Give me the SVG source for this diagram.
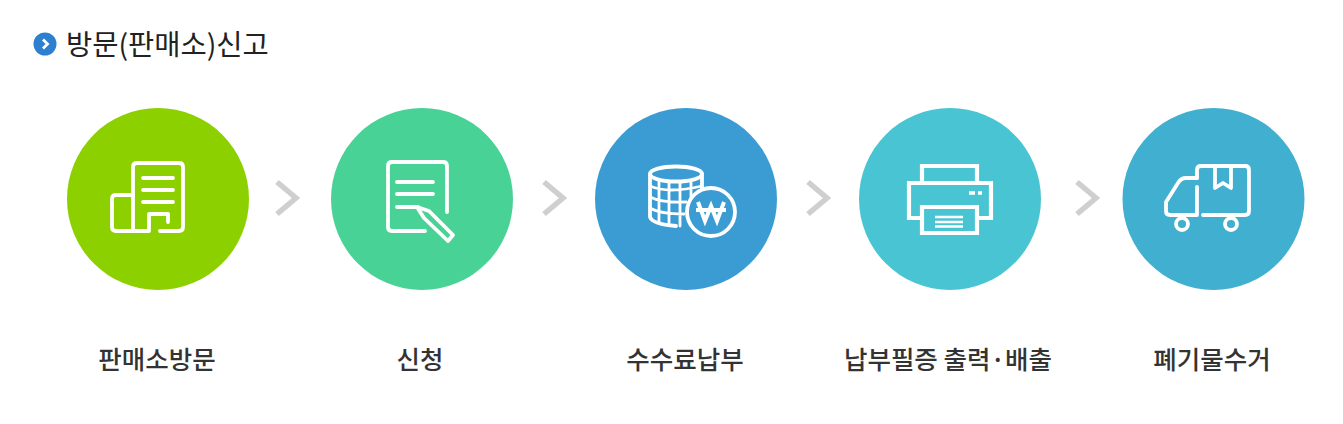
<svg xmlns="http://www.w3.org/2000/svg" width="1343" height="424" viewBox="0 0 1343 424">
<style>
text{font-family:"Noto Sans CJK KR","Noto Sans",sans-serif}
.title{font-size:28.500px;fill:#222;font-weight:400}
.label{font-size:25.500px;fill:#333;font-weight:500;text-anchor:middle}
.ic{fill:none;stroke:#fff;stroke-width:3.800;stroke-linecap:round;stroke-linejoin:round}
.sq{stroke-linecap:butt;stroke-linejoin:miter;stroke-width:4.200}
.ch{fill:none;stroke:#cfcfcf;stroke-width:5.500}
</style>
<rect width="1343" height="424" fill="#fff"/>
<g id="heading">
<circle cx="45" cy="44" r="11.500" fill="#2f7fd0"/>
<path d="M43 39.500L47.500 44L43 48.500" fill="none" stroke="#fff" stroke-width="2.800"/>
<text class="title" x="66" y="55">방문(판매소)신고</text>
</g>
<g id="connectors">
<path class="ch" d="M277 182L296 198L277 214"/>
<path class="ch" d="M544 182L563 198L544 214"/>
<path class="ch" d="M808 182L827 198L808 214"/>
<path class="ch" d="M1077 182L1096 198L1077 214"/>
</g>
<g id="node1">
<circle cx="158" cy="199" r="91" fill="#8dd000"/>
<path class="ic" d="M133 231V167Q133 163 137 163H179Q183 163 183 167V227Q183 231 179 231H160"/>
<path class="ic" d="M133 195H116Q112 195 112 199V227Q112 231 116 231H149V214H168V222"/>
<path class="ic" d="M143 178H173M143 190H173M143 202H173"/>
<text class="label" x="157" y="369">판매소방문</text>
</g>
<g id="node2">
<circle cx="422" cy="199" r="91" fill="#49d296"/>
<path class="ic" d="M447 212V166Q447 162 443 162H392Q388 162 388 166V227Q388 231 392 231H425"/>
<path class="ic" d="M397 182H433M397 194H433M397 207H418"/>
<path class="ic" d="M417 207L429 211L453 235L448 241L424 218Z"/>
<text class="label" x="420" y="369">신청</text>
</g>
<g id="node3">
<circle cx="686" cy="199" r="91" fill="#3b9cd3"/>
<ellipse class="ic" cx="676" cy="174" rx="26" ry="7.500"/>
<path class="ic" d="M650 174V217Q652 224 676 226M702 174V190"/>
<path class="ic" style="stroke-width:2.800" d="M650 186Q668 194 702 186M650 197Q662 203 686 202M650 208Q660 214 684 214M659 181V223M669 183V225M680 183V226M691 182V198"/>
<circle cx="711" cy="212" r="24" fill="#3b9cd3" stroke="#fff" stroke-width="3.800"/>
<path d="M698 202L705 221L711 206L717 221L724 202M696 210H726" fill="none" stroke="#fff" stroke-width="4"/>
<text class="label" x="685" y="369">수수료납부</text>
</g>
<g id="node4">
<circle cx="950" cy="199" r="91" fill="#49c4d2"/>
<path class="ic sq" d="M922 183V166H977V183"/>
<path class="ic sq" d="M922 218H909V183H991V218H977"/>
<path class="ic sq" d="M922 207H977V233H922Z"/>
<path class="ic sq" style="stroke-width:2.400" d="M935 217H963M935 222H963M935 226.500H963"/>
<path class="ic sq" style="stroke-width:3.400" d="M969 193H975M978 193H982"/>
<text class="label" x="948" y="369">납부필증 출력·배출</text>
</g>
<g id="node5">
<circle cx="1213.500" cy="199" r="91" fill="#41afd0"/>
<path class="ic" d="M1197 178V170Q1197 166 1201 166H1245Q1249 166 1249 170V211Q1249 215 1245 215H1203"/>
<path class="ic" d="M1197 187V215H1170Q1166 215 1166 211V202L1178 183Q1181 178 1186 178H1197"/>
<path class="ic" d="M1215 166V188L1223 183L1231 188V166"/>
<circle class="ic" cx="1182" cy="224" r="6"/>
<circle class="ic" cx="1231" cy="224" r="6"/>
<text class="label" x="1212" y="369">폐기물수거</text>
</g>
</svg>
